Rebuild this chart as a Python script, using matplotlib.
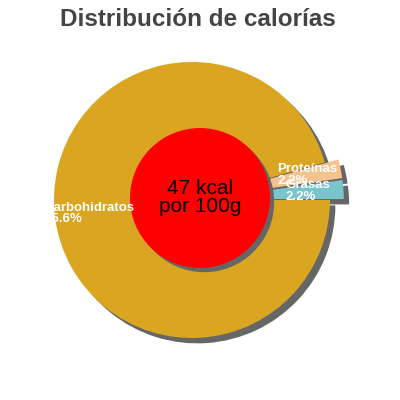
import matplotlib.pyplot as plt
from matplotlib.patches import Circle, Shadow

CATEGORIES = ["Carbohidratos", "Proteínas", "Grasas"]
PERCENTS = [95.6, 2.2, 2.2]
COLORS = ["#DAA520", "#F4C28E", "#78C5CC"]
CENTER_TEXT = "47 kcal\npor 100g"
TITLE = "Distribución de calorías"

plt.rcParams['font.family'] = ['Liberation Sans', 'DejaVu Sans']


def main():
    fig = plt.figure(figsize=(4, 4), dpi=100)
    ax = fig.add_axes([0, 0, 1, 1])

    wedges, _ = ax.pie(PERCENTS, colors=COLORS, startangle=0, counterclock=False,
                       explode=[0, 0.1, 0.1], radius=1,
                       shadow={'ox': 0.028, 'oy': -0.028, 'facecolor': '#666666',
                               'edgecolor': 'none', 'alpha': 1},
                       wedgeprops={'linewidth': 0})

    # center disc with its own shadow
    disc = Circle((0.058, 0.0145), 0.507, facecolor='#FF0000', edgecolor='none', zorder=5)
    ax.add_patch(disc)
    shad = Shadow(disc, 0.022, -0.022, facecolor='#666666', edgecolor='none', alpha=1)
    shad.set_zorder(4)
    ax.add_patch(shad)
    ax.text(0.058, 0.02, CENTER_TEXT, ha='center', va='center', fontsize=15,
            color='black', zorder=6, linespacing=0.95)

    # labels: left aligned, placed per slice
    label_pos = [(-1.072, -0.101), (0.616, 0.181), (0.674, 0.065)]
    for name, pct, (lx, ly) in zip(CATEGORIES, PERCENTS, label_pos):
        ax.text(lx, ly, "%s\n%.1f%%" % (name, pct), ha='left', va='center',
                fontsize=9.5, fontweight='bold', color='white', zorder=7,
                linespacing=0.9)

    ax.set_xlim(-1.391, 1.507)
    ax.set_ylim(-1.449, 1.449)
    ax.set_aspect('equal')
    ax.axis('off')

    fig.text(0.495, 0.935, TITLE, ha='center', va='baseline', fontsize=17.5,
             fontweight='bold', color='#444444')

    plt.savefig("out.png", dpi=100)


if __name__ == "__main__":
    main()
